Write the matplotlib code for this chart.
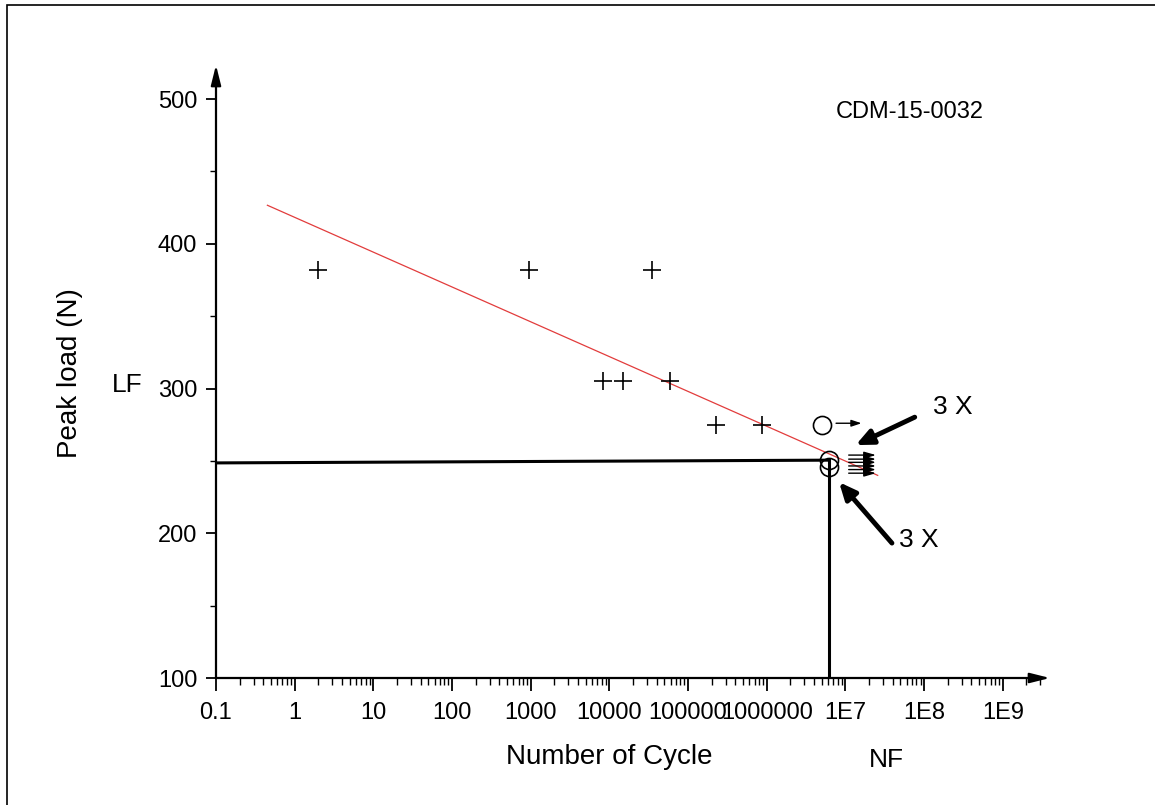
import matplotlib
matplotlib.use("Agg")
import matplotlib.pyplot as plt
from matplotlib.ticker import FixedLocator, LogLocator, NullFormatter, FixedFormatter
from matplotlib.patches import Rectangle

plt.rcParams['font.family'] = ['Liberation Sans', 'DejaVu Sans']

# ---- data ----
fail_cycles = [2, 950, 35000, 8300, 15000, 59000, 225000, 870000]
fail_loads = [382, 382, 382, 305, 305, 305, 275, 275]

circle_cycles = [5.0e6, 6.2e6, 6.2e6]
circle_loads = [275, 250.5, 245.6]

runout_start = 1.1e7
runout_end = 2.45e7
runout_loads = [254, 251.2, 249, 246.5, 244, 241.5]

fit_cycles = [0.45, 2.57e7]
fit_loads = [426.6, 240]

lf_cycles = [0.1, 6.2e6]
lf_loads = [248.6, 250.5]
nf_cycles = [6.2e6, 6.2e6]
nf_loads = [250.5, 100]

xtick_vals = [0.1, 1, 10, 100, 1000, 1e4, 1e5, 1e6, 1e7, 1e8, 1e9]
xtick_labels = ["0.1", "1", "10", "100", "1000", "10000", "100000",
                "1000000", "1E7", "1E8", "1E9"]
ytick_vals = [100, 200, 300, 400, 500]

fig = plt.figure(figsize=(11.55, 8.05), dpi=100)
ax = fig.add_axes([216/1155, 1-678/805, (1050-216)/1155, (678-65)/805])

ax.set_xscale('log')
ax.set_xlim(0.1, 10**9.6)
ax.set_ylim(100, 523.5)

for s in ax.spines.values():
    s.set_visible(False)

# axis lines with arrow heads
ax.annotate('', xy=(1, 0), xytext=(0, 0), xycoords='axes fraction',
            arrowprops=dict(arrowstyle='-|>,head_length=1.2,head_width=0.3',
                            lw=1.6, color='black', shrinkA=0, shrinkB=0))
ax.annotate('', xy=(0, 1), xytext=(0, 0), xycoords='axes fraction',
            arrowprops=dict(arrowstyle='-|>,head_length=1.2,head_width=0.3',
                            lw=1.6, color='black', shrinkA=0, shrinkB=0))

# ticks
ax.xaxis.set_major_locator(FixedLocator(xtick_vals))
ax.xaxis.set_major_formatter(FixedFormatter(xtick_labels))
ax.xaxis.set_minor_locator(LogLocator(base=10, subs=range(2, 10), numticks=100))
ax.xaxis.set_minor_formatter(NullFormatter())
ax.set_yticks(ytick_vals)
ax.set_yticks([150, 250, 350, 450], minor=True)
ax.tick_params(axis='x', which='major', direction='out', length=9.5, width=1.3,
               labelsize=17, pad=8, top=False)
ax.tick_params(axis='x', which='minor', direction='out', length=5, width=1.0, top=False)
ax.tick_params(axis='y', which='major', direction='out', length=7.5, width=1.3,
               labelsize=17, pad=6, right=False)
ax.tick_params(axis='y', which='minor', direction='out', length=4, width=1.0, right=False)

# fit line
ax.plot(fit_cycles, fit_loads, color='#e23c3c', lw=0.9, zorder=2)

# LF / NF lines
ax.plot(lf_cycles, lf_loads, color='black', lw=2.2, zorder=3)
ax.plot(nf_cycles, nf_loads, color='black', lw=2.2, zorder=3)

# failures
ax.plot(fail_cycles, fail_loads, linestyle='none', marker='+', markersize=13,
        markeredgewidth=1.2, color='black', zorder=4)

# circles
ax.plot(circle_cycles, circle_loads, linestyle='none', marker='o', markersize=13,
        markerfacecolor='none', markeredgewidth=1.2, color='black', zorder=4)

# arrow next to the 275 circle
ax.annotate('', xy=(1.6e7, 276), xytext=(7.6e6, 276), xycoords='data',
            arrowprops=dict(arrowstyle='-|>,head_length=0.6,head_width=0.2',
                            lw=1.0, color='black', shrinkA=0, shrinkB=0))

# run-out arrows
for ld in runout_loads:
    ax.annotate('', xy=(runout_end, ld), xytext=(runout_start, ld), xycoords='data',
                arrowprops=dict(arrowstyle='-|>,head_length=0.7,head_width=0.2',
                                lw=1.0, color='black', shrinkA=0, shrinkB=0))

# big pointer arrows
ax.annotate('', xy=(1.35e7, 260.9), xytext=(7.6e7, 280.2), xycoords='data',
            arrowprops=dict(arrowstyle='-|>,head_length=1.0,head_width=0.45',
                            lw=3.5, color='black', shrinkA=0, shrinkB=0))
ax.annotate('', xy=(8.3e6, 235.3), xytext=(3.9e7, 193.2), xycoords='data',
            arrowprops=dict(arrowstyle='-|>,head_length=1.0,head_width=0.45',
                            lw=3.5, color='black', shrinkA=0, shrinkB=0))

ax.text(10**8.365, 287, '3 X', fontsize=19, ha='center', va='center')
ax.text(10**7.93, 195.2, '3 X', fontsize=19, ha='center', va='center')

# figure texts
fig.text(910/1155, 1-112/805, 'CDM-15-0032', fontsize=17, ha='center', va='center')
fig.text(127/1155, 1-385/805, 'LF', fontsize=19, ha='center', va='center')
fig.text(886/1155, 1-760/805, 'NF', fontsize=19, ha='center', va='center')
fig.text(609/1155, 1-757/805, 'Number of Cycle', fontsize=20, ha='center', va='center')
fig.text(70/1155, 1-373/805, 'Peak load (N)', fontsize=20, ha='center', va='center',
         rotation=90)

# figure border (top and left visible)
fig.patches.append(Rectangle((7/1155, -0.05), 1.2, 1-5/805 + 0.05,
                             transform=fig.transFigure, fill=False,
                             edgecolor='black', lw=1.2))

fig.savefig('out.png', dpi=100)
